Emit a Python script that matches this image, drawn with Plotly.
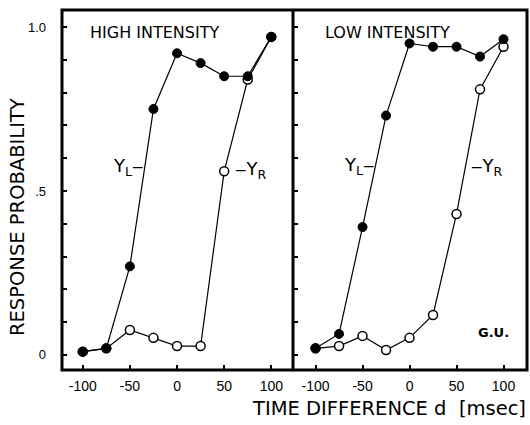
import plotly.graph_objects as go

W, H = 530, 425

d_values = [-100, -75, -50, -25, 0, 25, 50, 75, 100]
high_YL = [0.01, 0.02, 0.27, 0.75, 0.92, 0.89, 0.85, 0.85, 0.97]
high_YR = [0.01, 0.02, 0.076, 0.052, 0.027, 0.027, 0.56, 0.84, 0.97]
low_YL = [0.02, 0.064, 0.39, 0.73, 0.95, 0.94, 0.94, 0.91, 0.963]
low_YR = [0.02, 0.027, 0.058, 0.015, 0.052, 0.122, 0.43, 0.81, 0.94]

x_tickvals = [-100, -50, 0, 50, 100]
x_ticktext = ["-100", "-50", "0", "50", "100"]
y_tickvals = [0, 0.5, 1.0]
y_ticktext = ["0", ".5", "1.0"]

TICKFONT = "Liberation Sans, Arial, sans-serif"
FONT = "DejaVu Sans, sans-serif"

def px(x):
    return x / W

def py(y):
    return 1 - y / H

L, MID, R, T, B = 62, 293, 527, 10, 370

fig = go.Figure()

def add_series(xa, ya, yl, yr):
    fig.add_trace(go.Scatter(x=d_values, y=yr, mode="lines+markers", xaxis=xa, yaxis=ya,
                             line=dict(color="black", width=1.2),
                             marker=dict(size=9, color="white", line=dict(color="black", width=1.5)),
                             showlegend=False))
    fig.add_trace(go.Scatter(x=d_values, y=yl, mode="lines+markers", xaxis=xa, yaxis=ya,
                             line=dict(color="black", width=1.2),
                             marker=dict(size=9, color="black", line=dict(color="black", width=1)),
                             showlegend=False))

add_series("x", "y", high_YL, high_YR)
add_series("x2", "y2", low_YL, low_YR)

ydom = [py(B), py(T)]
common_x = dict(tickvals=x_tickvals, ticktext=x_ticktext, ticks="inside", ticklen=5, tickwidth=1.5,
                tickcolor="black", showgrid=False, zeroline=False, showline=False,
                tickfont=dict(family=TICKFONT, size=14, color="black"), ticklabelstandoff=6)
common_y = dict(range=[-0.046, 1.052], tickvals=y_tickvals, ticks="inside", ticklen=5, tickwidth=1.5,
                tickcolor="black", showgrid=False, zeroline=False, showline=False, domain=ydom,
                minor=dict(dtick=0.1, tick0=0, ticks="inside", ticklen=5, tickwidth=1.5,
                           tickcolor="black", showgrid=False))

fig.update_layout(
    width=W, height=H, margin=dict(l=0, r=0, t=0, b=0),
    paper_bgcolor="white", plot_bgcolor="white",
    xaxis=dict(domain=[px(L), px(MID)], range=[-122, 123], anchor="y", **common_x),
    xaxis2=dict(domain=[px(MID), px(R)], range=[-124, 125], anchor="y2", **common_x),
    yaxis=dict(anchor="x", ticktext=y_ticktext, tickfont=dict(family=TICKFONT, size=13, color="black"),
               ticklabelstandoff=15, **common_y),
    yaxis2=dict(anchor="x2", showticklabels=False, **common_y),
)

# frame
fig.add_shape(type="rect", xref="paper", yref="paper", x0=px(L), x1=px(R), y0=py(B), y1=py(T),
              line=dict(color="black", width=3))
fig.add_shape(type="line", xref="paper", yref="paper", x0=px(MID), x1=px(MID), y0=py(B), y1=py(T),
              line=dict(color="black", width=3))

def note(text, x, y, size=14, xanchor="left", **kw):
    fig.add_annotation(text=text, xref="paper", yref="paper", x=px(x), y=py(y), showarrow=False,
                       xanchor=xanchor, yanchor="middle",
                       font=dict(family=FONT, size=size, color="black"), **kw)

note("HIGH INTENSITY", 88, 33, size=16)
note("LOW INTENSITY", 323, 33, size=16)
note("Y<sub>L</sub>‒", 111, 167, size=18)
note("‒Y<sub>R</sub>", 233, 170, size=18)
note("Y<sub>L</sub>‒", 342, 166, size=18)
note("‒Y<sub>R</sub>", 469, 167, size=18)
note("<b>G.U.</b>", 476, 332, size=13)
note("TIME DIFFERENCE d  [msec]", 528, 408, size=19.5, xanchor="right")
note("RESPONSE PROBABILITY", 17, 217, size=19.5, xanchor="center", textangle=-90)

fig.write_html("out.html")
